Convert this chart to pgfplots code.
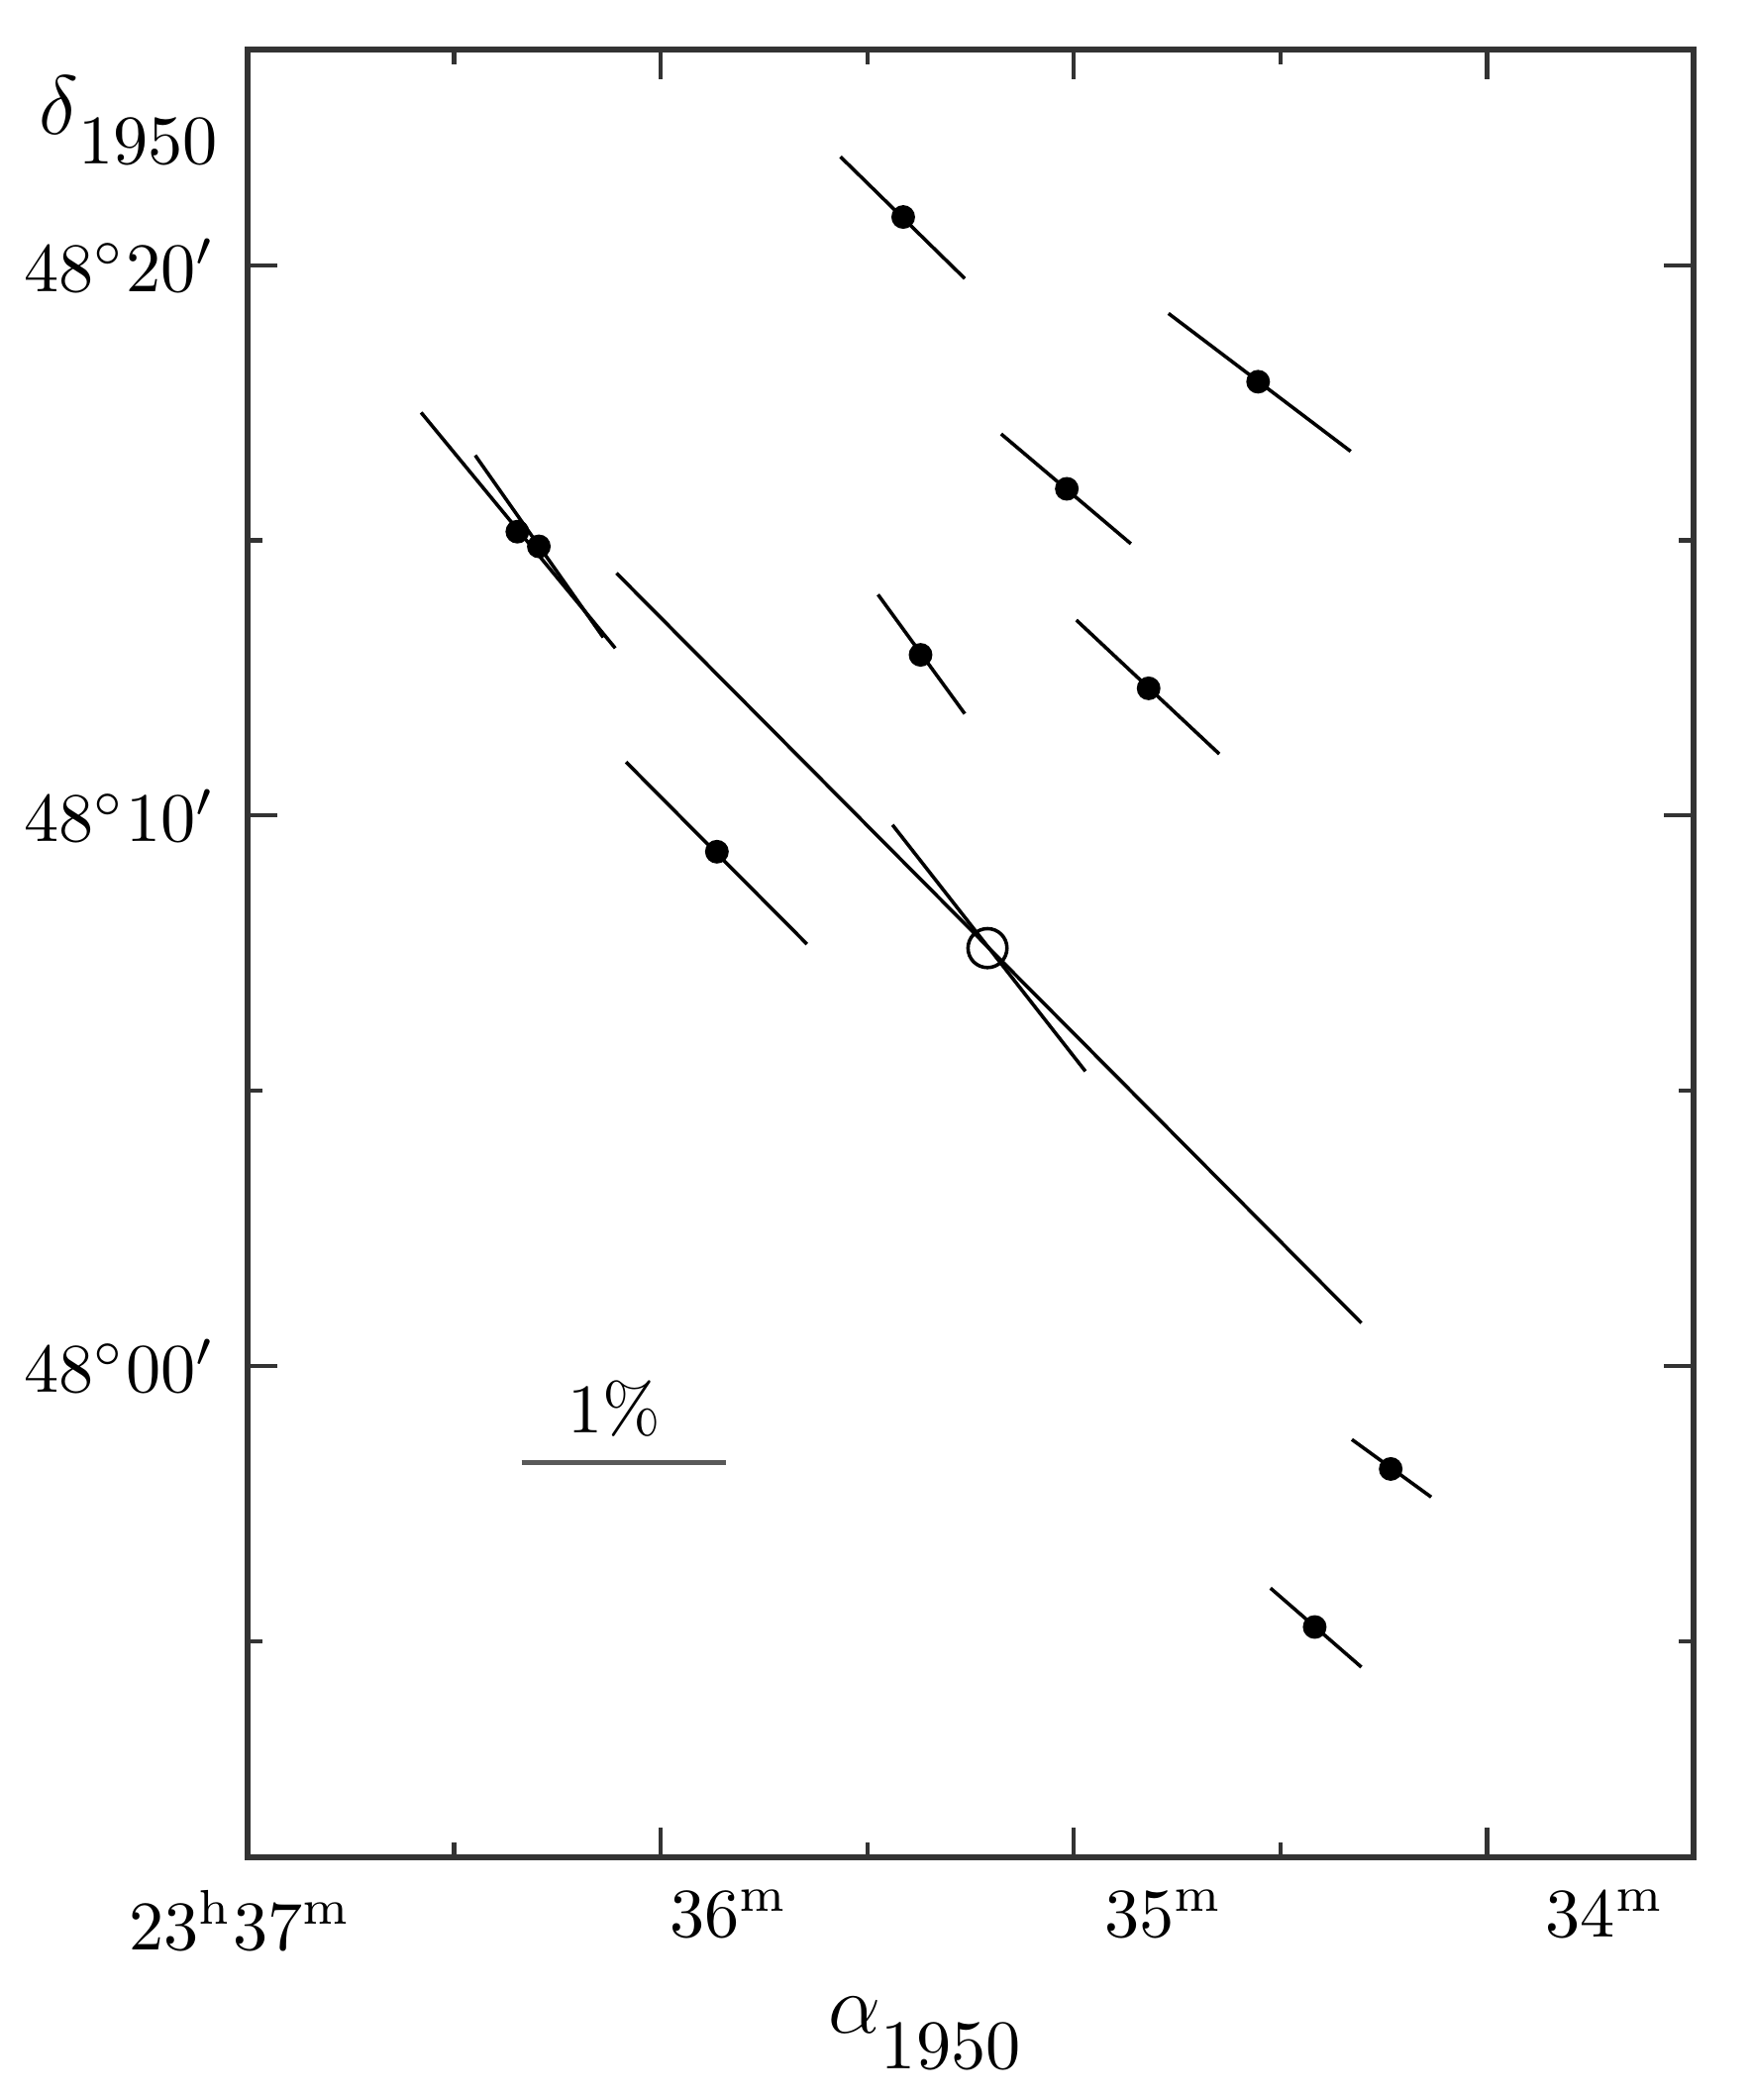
\documentclass[border=0pt]{standalone}
\usepackage{pgfplots}
\pgfplotsset{compat=1.18}
\begin{document}
\begin{tikzpicture}
\begin{axis}[
  name=ax,
  scale only axis,
  width=7.3cm, height=9.125cm,
  x dir=reverse,
  xmin=33.5, xmax=37,
  ymin=-8.93, ymax=23.92,
  clip=false,
  axis line style={black!80, line width=0.75pt},
  tick style={black!80, line width=0.6pt},
  major tick length=0.15cm, minor tick length=0.075cm,
  xtick={37,36,35,34},
  minor xtick={36.5,35.5,34.5},
  xticklabels={\hspace{-0.08cm}\llap{$23^{\mathrm{h}}$}$37^{\mathrm{m}}$,
               \hspace{0.04cm}$36^{\mathrm{m}}$,
               \hspace{0.15cm}$35^{\mathrm{m}}$,
               \hspace{0.29cm}$34^{\mathrm{m}}$},
  xticklabel style={anchor=north west, inner sep=0pt, yshift=-0.16cm},
  ytick={0,10,20},
  minor ytick={-5,5,15},
  yticklabels={$48^\circ00'$,$48^\circ10'$,$48^\circ20'$},
  yticklabel style={xshift=-0.04cm},
]
% polarization vectors
\addplot[black, line width=0.5pt] coordinates {(35.565,21.971) (35.264,19.757)};
\addplot[black, line width=0.5pt] coordinates {(34.771,19.124) (34.330,16.618)};
\addplot[black, line width=0.5pt] coordinates {(35.176,16.934) (34.862,14.939)};
\addplot[black, line width=0.5pt] coordinates {(36.580,17.324) (36.110,13.041)};
\addplot[black, line width=0.5pt] coordinates {(36.449,16.545) (36.139,13.236)};
\addplot[black, line width=0.5pt] coordinates {(35.474,14.015) (35.264,11.849)};
\addplot[black, line width=0.5pt] coordinates {(34.994,13.552) (34.648,11.119)};
\addplot[black, line width=0.5pt] coordinates {(36.084,10.973) (35.646,7.664)};
\addplot[black, line width=0.5pt] coordinates {(36.107,14.404) (34.304,0.779)};
\addplot[black, line width=0.5pt] coordinates {(35.439,9.830) (34.972,5.353)};
\addplot[black, line width=0.5pt] coordinates {(34.327,-1.338) (34.135,-2.384)};
\addplot[black, line width=0.5pt] coordinates {(34.524,-4.039) (34.304,-5.474)};
% stars
\addplot[only marks, mark=*, mark size=1.5pt, black] coordinates {
  (35.413,20.876) (34.554,17.883) (35.017,15.937) (36.347,15.158)
  (36.295,14.891) (35.371,12.920) (34.819,12.311) (35.864,9.343)
  (34.233,-1.873) (34.417,-4.745)};
% central source
\addplot[only marks, mark=o, mark size=2.8pt, black, mark options={line width=0.5pt}]
  coordinates {(35.209,7.591)};
% scale bar
\addplot[black!65, line width=0.7pt] coordinates {(36.337,-1.752) (35.841,-1.752)};
\node at (axis cs:36.113,-0.779) {1\%};
\node[anchor=base west, inner sep=0pt] at (rel axis cs:0.401,-0.097)
  {{\large$\alpha$}\raisebox{-0.18cm}{1950}};
\node[anchor=base west, inner sep=0pt] at (rel axis cs:-0.145,0.953)
  {{\large$\delta$}\raisebox{-0.15cm}{1950}};
\end{axis}
\path (ax.south west) ++(-1.25cm,-1.225cm);
\path (ax.north east) ++(0.3cm,0.25cm);
\end{tikzpicture}
\end{document}
